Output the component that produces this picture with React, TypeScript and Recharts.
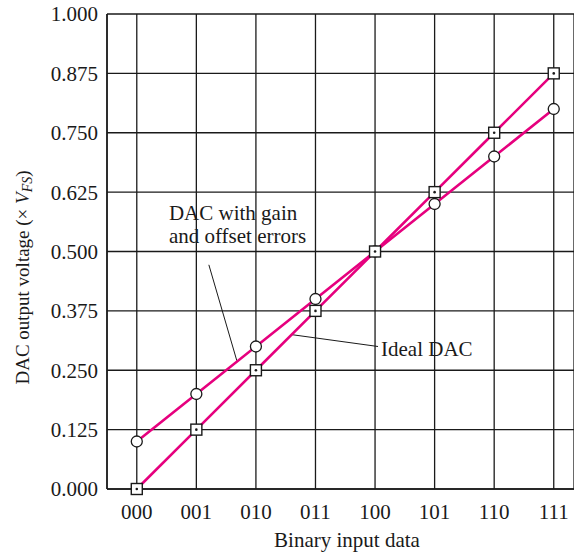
import React from 'react';
import { LineChart, Line, XAxis, YAxis, CartesianGrid, ReferenceLine, ReferenceDot } from 'recharts';

const codes = ['000', '001', '010', '011', '100', '101', '110', '111'];
const idealDac = [0, 0.125, 0.25, 0.375, 0.5, 0.625, 0.75, 0.875];
const errorDac = [0.1, 0.2, 0.3, 0.4, 0.5, 0.6, 0.7, 0.8];
const majorTicks = [0, 0.125, 0.25, 0.375, 0.5, 0.625, 0.75, 0.875, 1];
const minorTicks = [0.0625, 0.1875, 0.3125, 0.4375, 0.5625, 0.6875, 0.8125, 0.9375];
const xTicks = codes.map((_, i) => i);

const data = codes.map((code, i) => ({ x: i, code, ideal: idealDac[i], error: errorDac[i] }));

const INK = '#1a1a1a';
const MAGENTA = '#e6007e';
const FONT = '"Liberation Serif", "DejaVu Serif", serif';
const FS = 21;

const SquareDot = (props: any) => {
  const { cx, cy } = props;
  if (cx == null || cy == null) return null;
  return (
    <g>
      <rect x={cx - 5.5} y={cy - 5.5} width={11} height={11} fill="#fff" stroke={INK} strokeWidth={1.4} />
      <circle cx={cx} cy={cy} r={1.3} fill={INK} />
    </g>
  );
};

const CircleDot = (props: any) => {
  const { cx, cy } = props;
  if (cx == null || cy == null) return null;
  return <circle cx={cx} cy={cy} r={5.5} fill="#fff" stroke={INK} strokeWidth={1.3} />;
};

const YTitle = (props: any) => {
  const { viewBox } = props;
  const x = viewBox.x + 22;
  const y = viewBox.y + viewBox.height / 2 + 26;
  return (
    <text x={x} y={y} transform={`rotate(-90, ${x}, ${y})`} textAnchor="middle" dominantBaseline="central"
      fontSize={19} fill={INK} fontFamily={FONT}>
      DAC output voltage (×{' '}
      <tspan fontStyle="italic">V</tspan>
      <tspan fontStyle="italic" fontSize={14} dy={5}>FS</tspan>
      <tspan dy={-5}>)</tspan>
    </text>
  );
};

const XTitle = (props: any) => {
  const { viewBox } = props;
  return (
    <text x={viewBox.x + 240} y={viewBox.y + 51} textAnchor="middle" dominantBaseline="central"
      fontSize={FS} fill={INK} fontFamily={FONT}>
      Binary input data
    </text>
  );
};

const noteText = (lines: string[]) => (props: any) => {
  const { cx, cy } = props;
  return (
    <text x={cx} y={cy} fontSize={FS} fill={INK} fontFamily={FONT} dominantBaseline="central">
      {lines.map((l, i) => (
        <tspan key={l} x={cx} dy={i === 0 ? 0 : 23}>{l}</tspan>
      ))}
    </text>
  );
};

export default function App() {
  return (
    <div style={{ position: 'absolute', left: 0, top: 0, background: '#fff' }}>
      <LineChart width={574} height={554} data={data} margin={{ top: 14, right: 0, bottom: 0, left: 0 }}
        style={{ fontFamily: FONT }}>
        <CartesianGrid stroke={INK} strokeWidth={1.3} verticalFill={[]} />
        <XAxis dataKey="x" type="number" domain={[-0.5, 7.34]} ticks={xTicks} allowDataOverflow
          tickFormatter={(v: number) => codes[v] ?? ''} height={65} tickSize={0} tickMargin={15}
          axisLine={{ stroke: INK, strokeWidth: 1.5 }} tickLine={false}
          tick={{ fill: INK, fontSize: FS }} label={<XTitle />} />
        <YAxis type="number" domain={[0, 1]} ticks={majorTicks} width={107} tickSize={0} tickMargin={9}
          tickFormatter={(v: number) => v.toFixed(3)} axisLine={{ stroke: INK, strokeWidth: 1.5 }}
          tickLine={false} tick={{ fill: INK, fontSize: FS }} label={<YTitle />} />
        <YAxis yAxisId="minor" type="number" domain={[0, 1]} ticks={minorTicks} width={0} mirror
          tickSize={9} axisLine={false} tick={false} tickLine={{ stroke: INK, strokeWidth: 1.5 }} />
        <ReferenceLine segment={[{ x: 1.21, y: 0.472 }, { x: 1.68, y: 0.27 }]} stroke={INK} strokeWidth={1} />
        <ReferenceLine segment={[{ x: 2.6, y: 0.325 }, { x: 4.05, y: 0.3 }]} stroke={INK} strokeWidth={1} />
        <ReferenceDot x={0.54} y={0.581} r={0} shape={noteText(['DAC with gain', 'and offset errors'])} />
        <ReferenceDot x={4.1} y={0.295} r={0} shape={noteText(['Ideal DAC'])} />
        <Line type="linear" dataKey="error" stroke={MAGENTA} strokeWidth={2.6} dot={<CircleDot />}
          activeDot={false} isAnimationActive={false} />
        <Line type="linear" dataKey="ideal" stroke={MAGENTA} strokeWidth={2.6} dot={<SquareDot />}
          activeDot={false} isAnimationActive={false} />
      </LineChart>
    </div>
  );
}
